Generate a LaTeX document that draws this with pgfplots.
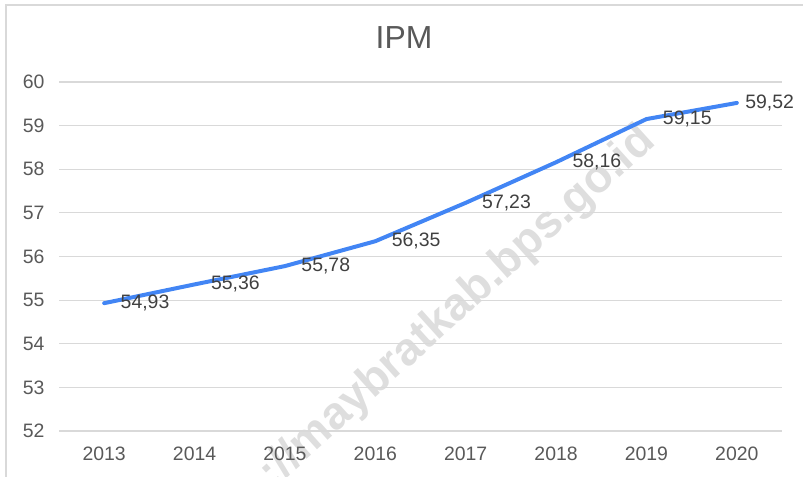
\documentclass[border=0pt]{standalone}
\usepackage{pgfplots}
\pgfplotsset{compat=1.18}
\usepackage{fontspec}
\setmainfont{Liberation Sans}
\definecolor{txt}{HTML}{595959}
\definecolor{lbl}{HTML}{404040}
\definecolor{gridc}{HTML}{D9D9D9}
\definecolor{ln}{HTML}{4285F4}
\begin{document}
\begin{tikzpicture}[x=1bp,y=1bp]
\useasboundingbox (0,0) rectangle (803,477);
\draw[gridc, line width=1.2bp] (6,-10) rectangle (820,472);
\node[rotate=42, text=black!13, font=\fontsize{46}{50}\selectfont\bfseries, anchor=base east, inner sep=0pt] at (657,333) {://maybratkab.bps.go.id};
\node[text=txt, font=\fontsize{32}{36}\selectfont] at (404,439) {IPM};
\begin{axis}[
  at={(59bp,46bp)}, anchor=south west,
  scale only axis, width=723bp, height=349bp,
  xmin=-0.5, xmax=7.5, ymin=52, ymax=60,
  ytick={52,53,...,60},
  xtick={0,...,7},
  xticklabels={2013,2014,2015,2016,2017,2018,2019,2020},
  axis line style={draw=none},
  tick style={draw=none},
  ymajorgrids,
  grid style={gridc, line width=1.2bp},
  ticklabel style={font=\fontsize{19.5}{22}\selectfont, text=txt},
  yticklabel style={xshift=-11bp},
  xticklabel style={yshift=-12bp},
  /pgf/number format/assume math mode=true,
  clip=false,
]
\addplot[ln, line width=4bp, line join=round, line cap=round] coordinates {
(0,54.93) (1,55.36) (2,55.78) (3,56.35) (4,57.23) (5,58.16) (6,59.15) (7,59.52)
};
\addplot[draw=none, point meta=explicit symbolic, nodes near coords,
  nodes near coords style={anchor=west, xshift=13bp, font=\fontsize{19.5}{22}\selectfont, text=lbl}]
  table[meta=lab] {
x y lab
0 54.93 54,93
1 55.36 55,36
2 55.78 55,78
3 56.35 56,35
4 57.23 57,23
5 58.16 58,16
6 59.15 59,15
};
\addplot[draw=none, point meta=explicit symbolic, nodes near coords,
  nodes near coords style={anchor=west, xshift=5bp, font=\fontsize{19.5}{22}\selectfont, text=lbl}]
  table[meta=lab] {
x y lab
7 59.52 59,52
};
\end{axis}
\end{tikzpicture}
\end{document}
